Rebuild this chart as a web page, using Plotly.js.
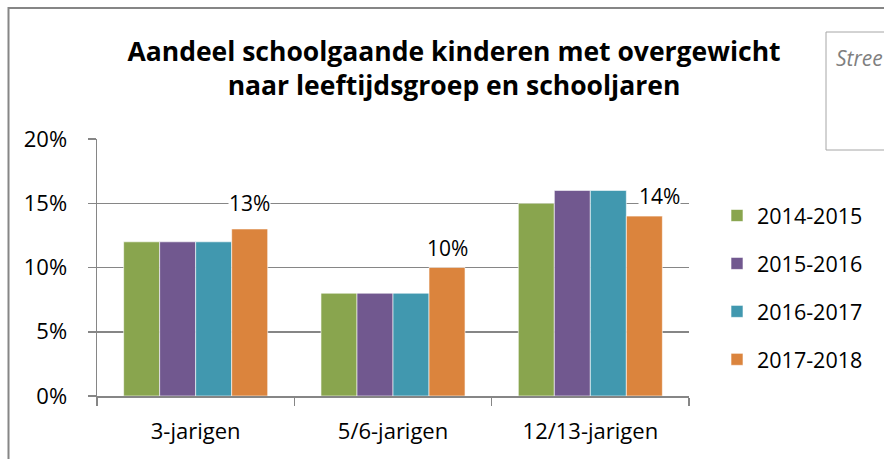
<!DOCTYPE html>
<html>
<head>
<meta charset="utf-8">
<script src="https://cdn.plot.ly/plotly-3.0.1.min.js"></script>
<style>html,body{margin:0;padding:0;background:#fff;}#chart{width:884px;height:459px;}</style>
</head>
<body>
<div id="chart"></div>
<script>
// ---- data ----
const categories = ["3-jarigen", "5/6-jarigen", "12/13-jarigen"];
const seriesNames = ["2014-2015", "2015-2016", "2016-2017", "2017-2018"];
const values2014 = [0.12, 0.08, 0.15];
const values2015 = [0.12, 0.08, 0.16];
const values2016 = [0.12, 0.08, 0.16];
const values2017 = [0.13, 0.10, 0.14];
const labelSeries = ["2017-2018"];
const yTickVals = [0, 0.05, 0.10, 0.15, 0.20];
const yTickText = ["0%", "5%", "10%", "15%", "20%"];
const titleText = "Aandeel schoolgaande kinderen met overgewicht<br>naar leeftijdsgroep en schooljaren";
const boxText = "Stree";

// ---- styling ----
const colors = ["#89A54E", "#71588F", "#4198AF", "#DB843D"];
const labelNudgeX = [0, 0, 15];   // pixel nudges of the data labels (style)
const labelNudgeY = [11, 5, 5];
const W = 884, H = 459;
const M = {l: 97, r: 195, t: 139, b: 63};
const plotW = W - M.l - M.r, plotH = H - M.t - M.b;
const bargap = 0.27;
const FONT = "Open Sans, Liberation Sans, Arial, sans-serif";
const allValues = [values2014, values2015, values2016, values2017];

const traces = seriesNames.map((name, i) => ({
  type: "bar",
  name: name,
  x: categories,
  y: allValues[i],
  marker: {color: colors[i], line: {color: "rgba(255,255,255,0.6)", width: 1}},
  legendgroup: name,
  hoverinfo: "skip"
}));

// data labels with white background (like Excel)
const nSeries = seriesNames.length;
const catW = plotW / categories.length;
const barW = catW * (1 - bargap) / nSeries;
const annotations = [];
seriesNames.forEach((name, i) => {
  if (labelSeries.indexOf(name) < 0) return;
  categories.forEach((c, j) => {
    annotations.push({
      x: c, y: allValues[i][j], xref: "x", yref: "y",
      xshift: (i - (nSeries - 1) / 2) * barW + labelNudgeX[j],
      yshift: labelNudgeY[j],
      yanchor: "bottom", xanchor: "center",
      text: Math.round(allValues[i][j] * 100) + "%",
      showarrow: false, bgcolor: "#ffffff", borderpad: 0,
      font: {family: FONT, size: 21, color: "#000"}
    });
  });
});
// the cut-off text box at the top right
const px2x = p => (p - M.l) / plotW;
const py2y = p => 1 - (p - M.t) / plotH;
annotations.push({
  xref: "paper", yref: "paper", x: px2x(834), y: py2y(58), xanchor: "left", yanchor: "middle",
  text: "<i>" + boxText + "</i>", showarrow: false,
  font: {family: FONT, size: 21, color: "#7f7f7f"}
});

const shapes = [
  {type: "rect", xref: "paper", yref: "paper", x0: px2x(8.5), x1: px2x(900), y0: py2y(8), y1: py2y(480),
   line: {color: "#868686", width: 2}, fillcolor: "rgba(0,0,0,0)", layer: "below"},
  {type: "rect", xref: "paper", yref: "paper", x0: px2x(826), x1: px2x(900), y0: py2y(32), y1: py2y(150),
   line: {color: "#a6a6a6", width: 1}, fillcolor: "#ffffff", layer: "above"}
];

const layout = {
  width: W, height: H,
  margin: {l: M.l, r: M.r, t: M.t, b: M.b, pad: 0},
  paper_bgcolor: "#fff", plot_bgcolor: "#fff",
  font: {family: FONT, size: 21, color: "#000"},
  title: {
    text: "<b>" + titleText + "</b>",
    xref: "container", x: 454 / W, xanchor: "center",
    yref: "container", y: 1 - 61 / H, yanchor: "top",
    font: {family: FONT, size: 26.5, color: "#000"}
  },
  barmode: "group", bargap: bargap, bargroupgap: 0,
  xaxis: {
    type: "category", showgrid: false, zeroline: false,
    showline: true, linecolor: "#868686", linewidth: 1.5,
    ticks: "outside", tickson: "boundaries", ticklen: 8, tickcolor: "#868686", tickwidth: 1.5,
    ticklabelstandoff: 15,
    tickfont: {family: FONT, size: 22, color: "#000"}
  },
  yaxis: {
    range: [0, 0.2], tickvals: yTickVals, ticktext: yTickText,
    showgrid: true, gridcolor: "#868686", gridwidth: 1.5, zeroline: false,
    showline: true, linecolor: "#868686", linewidth: 1.5,
    ticks: "outside", ticklen: 8, tickcolor: "#868686", tickwidth: 1.5,
    ticklabelstandoff: 16,
    tickfont: {family: FONT, size: 22, color: "#000"}
  },
  showlegend: true,
  legend: {
    x: px2x(717), xanchor: "left", y: py2y(195), yanchor: "top",
    traceorder: "grouped", tracegroupgap: 17,
    font: {family: FONT, size: 21.5, color: "#000"},
    bgcolor: "rgba(0,0,0,0)"
  },
  annotations: annotations,
  shapes: shapes
};

Plotly.newPlot("chart", traces, layout, {displayModeBar: false, staticPlot: true});
</script>
</body>
</html>
